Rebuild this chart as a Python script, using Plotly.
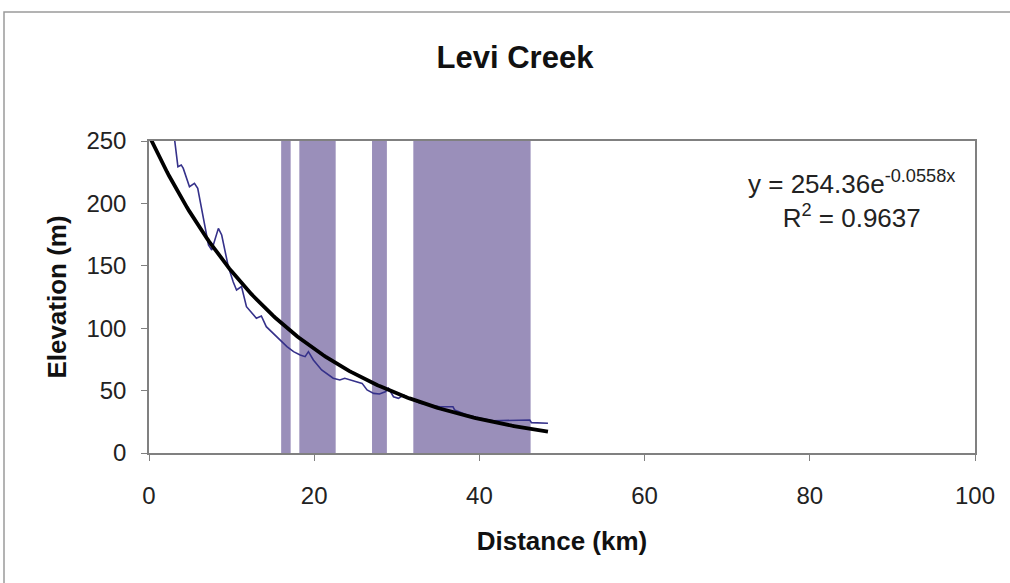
import plotly.graph_objects as go
import numpy as np

# Stream profile (distance km, elevation m)
profile_km = [3.1, 3.5, 3.9, 4.15, 4.9, 5.5, 5.9, 7.2, 7.6, 8.4, 8.8, 9.6, 10.2, 10.6, 11.2,
              11.8, 13.0, 13.6, 14.2, 15.5, 16.7, 17.5, 18.3, 18.9, 19.3, 19.9, 20.9, 22.3,
              23.1, 23.7, 24.3, 25.1, 25.8, 26.4, 27.2, 27.9, 28.6, 29.0, 29.6, 30.2, 30.8,
              31.6, 32.8, 34.0, 35.2, 36.8, 37.0, 38.5, 40.1, 41.7, 43.3, 44.9, 46.1, 46.3,
              47.3, 48.3]
profile_m = [251, 229.4, 230.8, 228, 213.4, 216, 212, 166.7, 162.7, 180, 174.7, 149.3, 137,
             130.6, 133.3, 117.2, 108, 109.8, 101.2, 93.2, 85.2, 81.2, 78.5, 77.2, 81.2, 74.5,
             66.5, 59.9, 58.5, 59.9, 58.5, 57.1, 55.8, 50.5, 47.8, 47.3, 49.1, 51.8, 45.1,
             43.8, 46.5, 43.8, 39.8, 38.5, 37.1, 37.1, 34.5, 30.4, 27.8, 25.9, 25.9, 25.9,
             26.4, 24.3, 24.3, 23.8]

# Shaded reaches (start km, end km)
band_start = [16.0, 18.2, 27.0, 32.0]
band_end = [17.15, 22.6, 28.8, 46.2]

# Exponential trendline coefficients shown on the chart
fit_a = 254.36
fit_b = -0.0558
fit_x_max = 48.3

x_ticks = [0, 20, 40, 60, 80, 100]
y_ticks = [0, 50, 100, 150, 200, 250]

fit_x = np.linspace(0, fit_x_max, 200)
fit_y = fit_a * np.exp(fit_b * fit_x)

FAM = "Liberation Sans, Arial, sans-serif"

fig = go.Figure()

fig.add_trace(go.Scatter(x=profile_km, y=profile_m, mode="lines",
                         line=dict(color="#35318a", width=1.6), showlegend=False))
fig.add_trace(go.Scatter(x=fit_x, y=fit_y, mode="lines",
                         line=dict(color="#000000", width=3.8), showlegend=False))

for s, e in zip(band_start, band_end):
    fig.add_shape(type="rect", xref="x", yref="y", x0=s, x1=e, y0=0, y1=250,
                  fillcolor="#9a8fba", line=dict(width=0), layer="below")

# outer chart border
fig.add_shape(type="rect", xref="paper", yref="paper",
              x0=(4 - 149) / 826, x1=1.06, y0=-0.6, y1=(453 - 12) / 312,
              line=dict(color="#9a9a9a", width=1.5), fillcolor="rgba(0,0,0,0)", layer="below")

fig.add_annotation(x=85.0, y=203, xref="x", yref="y", showarrow=False,
                   text="y = 254.36e<sup>-0.0558x</sup><br>R<sup>2</sup> = 0.9637",
                   align="center", font=dict(family=FAM, size=26, color="#222"))

fig.update_layout(
    width=1010, height=583,
    margin=dict(l=149, r=35, t=141, b=130),
    paper_bgcolor="white", plot_bgcolor="white",
    title=dict(text="<b>Levi Creek</b>", x=515 / 1010, xanchor="center",
               y=1 - 57 / 583, yanchor="middle",
               font=dict(family=FAM, size=31, color="#111")),
    font=dict(family=FAM, size=24, color="#222"),
    xaxis=dict(range=[0, 100], tickvals=x_ticks, showgrid=False, zeroline=False,
               showline=True, linecolor="#808080", linewidth=1.5, mirror=True,
               ticks="outside", ticklen=6, tickcolor="#808080", ticklabelstandoff=14,
               tickfont=dict(family=FAM, size=24, color="#222"),
               title=dict(text="<b>Distance (km)</b>", standoff=24,
                          font=dict(family=FAM, size=26, color="#111"))),
    yaxis=dict(range=[0, 250], tickvals=y_ticks, showgrid=False, zeroline=False,
               showline=True, linecolor="#808080", linewidth=1.5, mirror=True,
               ticks="outside", ticklen=6, tickcolor="#808080", ticklabelstandoff=10,
               tickfont=dict(family=FAM, size=24, color="#222"),
               title=dict(text="<b>Elevation (m)</b>", standoff=12,
                          font=dict(family=FAM, size=26, color="#111"))),
)

fig.write_html("out.html", post_script="document.body.style.margin='0';",
               config={"displayModeBar": False})
